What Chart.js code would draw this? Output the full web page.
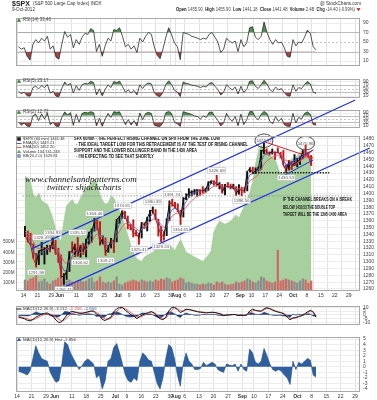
<!DOCTYPE html>
<html><head><meta charset="utf-8">
<script src="https://cdn.jsdelivr.net/npm/chart.js@4.4.1/dist/chart.umd.min.js"></script>
<style>
html,body{margin:0;padding:0;background:#fff}
body{width:377px;height:400px;position:relative;overflow:hidden}
canvas{position:absolute;left:0}
</style></head><body>
<canvas id="hdr" width="377" height="12" style="top:0"></canvas>
<canvas id="p1" width="377" height="60" style="top:12px"></canvas>
<canvas id="p2" width="377" height="31" style="top:73px"></canvas>
<canvas id="p3" width="377" height="30" style="top:104px"></canvas>
<canvas id="macd" width="377" height="31" style="top:300px"></canvas>
<canvas id="hist" width="377" height="69" style="top:331px"></canvas>
<canvas id="main" width="377" height="205" style="top:95px;z-index:5"></canvas>
<script>
// ---------- DATA ----------
// trading-day index 0 = 14 May 2012 ... 103 = 9 Oct 2012
const tickIdx = [0,5,10,13,19,24,29,34,38,43,48,53,55,58,63,68,73,78,82,87,92,97,102,107,112,117];
const tickLbl = ['14','21','29','Jun','11','18','25','Jul','9','16','23','30','Aug','6','13','20','27','Sep','10','17','24','Oct','8','15','22','29'];
const priceTicks = [1260,1270,1280,1290,1300,1310,1320,1330,1340,1350,1360,1370,1380,1390,1400,1410,1420,1430,1440,1450,1460,1470,1480];
const volTicks = [100,200,300,400,500];
const rsiTicks = [10,30,50,70,90];
const macdTicks = [-10,-5,0,5,10];
const histTicks = [-4,-3,-2,-1,0,1,2,3,4,5];

const closes = [1338.35,1330.66,1324.80,1304.86,1295.22,1315.99,1316.63,1318.86,1320.68,1317.82,
1332.42,1313.32,1310.33,1278.04,1278.18,1285.50,1315.13,1314.99,1325.66,1308.93,
1324.18,1314.88,1329.10,1342.84,1344.78,1357.98,1355.69,1325.51,1335.02,1313.72,
1319.99,1331.85,1329.04,1362.16,1365.51,1374.02,1367.58,1354.68,1352.46,1341.47,
1341.45,1334.76,1356.78,1353.64,1363.67,1372.78,1376.51,1362.66,1350.52,1338.31,
1337.89,1360.02,1385.97,1385.30,1379.32,1375.32,1365.00,1390.99,1394.23,1401.35,
1402.22,1402.80,1405.87,1404.11,1403.93,1405.53,1415.51,1418.16,1418.13,1413.17,
1413.49,1402.08,1411.13,1410.44,1409.30,1410.49,1399.48,1406.58,1404.94,1403.44,
1432.12,1437.92,1429.08,1433.56,1436.56,1459.99,1465.77,1461.19,1459.32,1461.05,
1460.26,1460.15,1456.89,1441.59,1433.32,1447.15,1440.67,1444.49,1445.75,1450.99,
1461.40,1460.93,1455.88,1441.48];
const highs = [1351.93,1344.94,1341.78,1326.36,1312.24,1316.00,1328.49,1320.71,1324.20,1324.14,
1334.93,1331.25,1319.74,1309.83,1282.55,1287.00,1315.13,1329.05,1325.81,1335.52,
1324.41,1327.28,1333.25,1343.32,1348.22,1363.46,1361.57,1358.79,1337.82,1334.98,
1324.31,1334.40,1331.85,1362.17,1366.35,1374.81,1373.85,1367.09,1354.65,1361.54,
1345.97,1341.45,1357.70,1357.26,1365.36,1375.26,1380.39,1376.51,1362.34,1351.53,
1343.98,1363.13,1389.19,1391.74,1387.16,1385.03,1375.32,1394.16,1399.63,1407.14,
1404.14,1405.95,1405.98,1405.87,1410.03,1407.73,1417.44,1418.71,1418.71,1426.68,
1416.12,1413.49,1413.46,1416.17,1413.95,1413.70,1410.08,1413.09,1409.31,1408.81,
1432.12,1437.92,1438.74,1437.76,1439.15,1463.46,1474.51,1465.63,1461.47,1465.15,
1461.23,1467.07,1460.72,1463.24,1441.60,1448.52,1447.39,1457.14,1451.52,1453.89,
1463.14,1470.96,1460.93,1455.90];
const lows = [1336.61,1328.41,1324.79,1304.86,1291.98,1295.73,1310.04,1296.53,1310.50,1314.23,
1318.90,1310.76,1298.90,1277.25,1266.74,1274.00,1285.50,1312.68,1307.77,1307.73,
1306.62,1310.51,1306.91,1325.61,1328.49,1344.94,1346.45,1324.41,1325.92,1309.27,
1313.72,1320.00,1313.29,1329.05,1355.70,1363.53,1363.02,1348.03,1346.65,1336.27,
1338.00,1325.41,1334.76,1348.51,1345.07,1358.96,1371.21,1362.19,1337.56,1329.24,
1331.50,1338.17,1360.05,1381.37,1379.17,1373.35,1354.65,1365.45,1391.04,1394.46,
1396.13,1398.80,1395.62,1397.32,1400.60,1401.83,1404.15,1414.67,1412.13,1410.86,
1406.78,1400.50,1398.04,1409.11,1406.57,1406.78,1397.01,1398.96,1396.56,1401.25,
1403.85,1431.45,1428.98,1429.13,1432.99,1435.34,1458.65,1457.55,1456.13,1457.88,
1449.98,1459.51,1452.06,1441.59,1430.53,1434.53,1435.18,1440.90,1439.01,1442.62,
1450.98,1456.89,1453.10,1441.18];
const emaFast = [1342,1336,1330,1317,1306,1311,1314,1316,1318,1318,
1325,1319,1315,1296,1287,1286,1301,1308,1317,1313,
1319,1317,1323,1333,1339,1348,1352,1339,1337,1325,
1323,1327,1328,1345,1355,1365,1366,1360,1356,1349,
1345,1340,1348,1351,1357,1365,1371,1367,1359,1349,
1343,1352,1369,1377,1378,1377,1371,1381,1388,1395,
1399,1401,1403,1404,1404,1405,1410,1414,1416,1415,
1414,1408,1410,1410,1410,1410,1405,1406,1405,1404,
1418,1428,1429,1431,1434,1447,1456,1459,1459,1460,
1460,1460,1458,1450,1442,1444,1442,1443,1444,1448,
1455,1458,1457,1449.2];
const emaSlow = [1345,1341.4,1337.2,1329.1,1320.6,1319.5,1318.8,1318.8,1319.3,1318.9,
1322.3,1320,1317.6,1307.7,1300.3,1296.6,1301.2,1304.7,1309.9,1309.7,
1313.3,1313.7,1317.6,1323.9,1329.1,1336.3,1341.2,1337.3,1336.7,1331,
1328.2,1329.1,1329.1,1337.4,1344.4,1351.8,1355.8,1355.5,1354.8,1351.5,
1349,1345.4,1348.3,1349.6,1353.1,1358,1362.6,1362.6,1359.6,1354.3,
1350.2,1352.7,1361,1367.1,1370.1,1371.4,1369.8,1375.1,1379.9,1385.3,
1389.5,1392.8,1396.1,1398.1,1399.6,1401.1,1404.7,1408.1,1410.6,1411.3,
1411.8,1409.4,1409.8,1409.9,1409.8,1409.9,1407.3,1407.1,1406.6,1405.8,
1412.4,1418.8,1421.4,1424.4,1427.5,1435.6,1443.2,1447.7,1450.6,1453.2,
1455,1456.3,1456.5,1452.8,1447.9,1447.7,1446,1445.6,1445.6,1447,
1450.6,1453.2,1453.9,1452.2];
const breadth = [74,73,70,62,60,63,58,57,56,52,
47,40,35,32,45,55,57,59,56,56,
60,63,66,68,70,72,69,62,58,56,
57,61,60,55,52,47,42,36,30,25,
21,20,19,22,23,24,25,27,28,30,
31,30,30,28,26,30,33,29,25,24,
23,22,21,20,19,21,23,26,38,42,
45,44,43,44,45,47,49,47,51,55,
59,64,71,82,90,94,91,90,88,86,
85,80,75,76,80,83,85,86,87,89,
91,88,86,85];
const volume = [130,120,140,150,170,110,120,140,110,90,
120,130,150,160,140,120,130,110,100,120,
130,110,120,140,150,110,120,160,110,100,
110,100,120,160,90,80,100,110,120,130,
120,110,130,120,110,120,110,130,120,140,
130,150,140,110,120,130,150,140,100,110,
100,90,90,80,90,85,100,95,80,110,
100,110,90,80,85,90,110,100,110,120,
140,130,110,100,120,160,150,120,110,100,
110,420,120,130,140,130,120,110,100,120,
140,130,100,120];
const rsi14 = [40,35,38,20,12,45,55,48,58,52,
62,35,42,18,14,45,72,60,66,38,
55,45,60,68,66,78,74,30,45,20,
42,58,52,76,74,80,62,40,45,35,
42,28,58,50,62,70,66,40,22,15,
35,60,80,65,48,40,13,70,68,66,
62,60,58,55,58,56,66,70,60,50,
28,35,58,52,48,52,30,55,40,48,
80,82,60,55,62,92,70,55,45,55,
48,50,38,20,18,55,42,50,48,60,
75,68,40,33.5];
const rsi5 = [35,22,30,10,8,55,62,48,66,55,
72,25,35,8,6,50,85,68,78,25,
65,40,70,78,75,90,82,15,48,10,
45,70,55,88,82,90,60,30,42,25,
40,15,70,50,72,80,75,28,10,6,
30,72,92,72,40,30,6,85,78,75,
68,65,62,55,62,58,78,82,62,45,
15,30,70,55,42,58,20,62,28,45,
90,92,62,50,70,95,75,45,32,58,
42,50,28,10,8,70,35,55,50,72,
88,75,30,23.2];
const rsi2 = [30,12,25,5,3,70,80,40,82,50,
88,15,30,4,3,60,95,75,90,10,
80,30,85,92,88,96,90,6,55,4,
50,85,60,96,92,95,55,15,45,12,
40,6,88,45,85,92,85,12,5,3,
25,90,97,85,30,20,3,96,90,85,
78,70,65,50,70,60,92,94,65,40,
6,25,85,55,35,65,8,80,15,45,
96,97,60,45,80,98,85,35,20,65,
35,55,15,4,3,85,25,60,50,85,
95,80,15,12.7];
const macdLine = [-3,-4,-5,-7,-8,-6,-3,-1,1,2,
2.5,0,-2,-7,-10,-9,-4,1,4,4.5,
3,2,2,3,4,5,5,1,-1,-6,
-7.5,-5,-3,4,8,10,9.5,6,3,0,
-2,-5,-2,0,2,3,4.5,2,-2,-5,
-6.5,-3,5,9.5,10,7,3,5,7.5,7,
6,5,4,3.5,3,2.5,3,3.5,3,2,
1,-1,-0.5,0,0.5,0.5,-1,-0.5,-1,0,
5,7.5,6,5,5,8,9.5,8,6,4.5,
3.5,2.5,1,-3,-6.5,-4,-3.5,-2,-1,1,
4,6,3.5,-3.1];
const macdSignal = [-2,-3,-4,-5,-6.5,-6.5,-5,-3,-1,0.5,
1.5,1,0,-3,-6,-8,-6.5,-3,0.5,3,
3.5,3,2.5,2.5,3.5,4.5,5,3,1,-2.5,
-5.5,-6,-4.5,-0.5,4.5,8,9.5,8,5.5,2.5,
0,-2.5,-3,-1.5,0.5,2,3.5,3,0.5,-2.5,
-5,-4.5,0.5,6,9,8.5,5.5,5,6.5,7,
6.5,5.5,4.5,4,3.5,3,3,3.2,3.2,2.5,
1.5,0,-0.5,-0.2,0.3,0.5,-0.3,-0.5,-0.8,-0.4,
2.5,5.5,6,5.5,5,6.5,8.5,8.5,7,5.5,
4.2,3,1.8,-1,-4.5,-4.5,-4,-2.8,-1.5,0,
2.5,5,4.5,-1.26];
const macdHist = [-0.8,-1,-1.2,-1.5,-0.8,1.5,3.8,2.5,1.5,1.2,
1,-1,-2,-2.8,-2.5,0.5,4.5,4,2.5,1.5,
0.5,-0.5,0.2,1,1.4,1,0.5,-2,-1.5,-4,
-2.5,1,1.5,3.5,4.2,2.5,0.5,-1.5,-2.5,-2.8,
-2,-2.5,1,2.5,2,1.2,1,-1,-3,-4,
-2,1.5,4,3.5,1.5,-1.5,-3.5,0.5,2.5,1,
0.5,-0.5,-0.5,-0.3,0.8,0.2,0.5,0.8,0.5,-0.5,
-0.8,-1,0.5,0.3,0.2,0.5,-0.8,0.5,-0.5,-0.8,
3.2,2.5,0.8,0.5,1,3.3,2,0.5,-0.5,-0.8,
-0.5,-0.8,-1.5,-2,-3.2,1,-0.5,0.8,0.5,1,
1.5,1.2,-1.5,-1.86];

// price call-outs (day index, price, placement a=above b=below c=circled)
const lblDay   = [4,6,10,14,19,20,25,29,35,41,46,49,53,56,69,78,86,94,101];
const lblPrice = [1291.98,1328.49,1334.93,1266.74,1335.52,1306.62,1363.46,1309.27,1374.81,1325.41,1380.39,1329.24,1391.74,1354.65,1426.68,1396.56,1474.51,1430.53,1470.96];
const lblPos   = ['b','a','a','b','a','b','a','b','a','b','a','b','a','b','a','b','c','b','c'];
// drawn trend lines (day index, price)
const chanUpperX = [2.77,119.4],  chanUpperY = [1318.7,1537.2];
const chanLowerX = [12.46,124.6], chanLowerY = [1258.6,1466.8];
const redDownX = [86.9,104.2],    redDownY = [1475.6,1452.1];
const redUpX = [95.2,104.2],      redUpY = [1434.5,1463.9];
const blueAX = [93.5,104.2],      blueAY = [1439,1463.9];
const blueBX = [92.8,104.2],      blueBY = [1424.3,1449.2];
const supportLevel = 1396.56, neckLevel = 1430.53, neckFrom = 82.4, neckTo = 110;

// ---------- HELPERS ----------
const F = '"Liberation Sans", Arial, sans-serif';
const XMIN = -0.35, XMAX = 118.7;
const pts = a => a.map((v,i)=>({x:i+0.5, y:v}));
const seg = (xs,ys) => xs.map((x,i)=>({x, y:ys[i]}));
const up = closes.map((c,i)=> i===0 ? true : c >= closes[i-1]);

function xScale(show, h){
  return {type:'linear', min:XMIN, max:XMAX,
    afterBuildTicks:s=>{ s.ticks = tickIdx.map(v=>({value:v})); },
    ticks:{display:show, autoSkip:false, maxRotation:0, minRotation:0, padding:2, color:'#333',
      callback:(v,i)=>tickLbl[i],
      font:c=>({family:F, size:5, weight:/^[A-Z]/.test(tickLbl[c.index]||'')?'bold':'normal'})},
    grid:{color:'#e2e2e2', lineWidth:1, drawTicks:false},
    border:{display:false},
    afterFit:s=>{ s.height = h; }
  };
}
function yScale(min,max,ticks,gridColor,fmt){
  return {position:'right', min, max,
    afterBuildTicks:s=>{ s.ticks = ticks.map(v=>({value:v})); },
    ticks:{autoSkip:false, padding:3, color:'#444', font:{family:F,size:5}, callback:v=>fmt?fmt(v):String(v)},
    grid:{display:!!gridColor, color:gridColor||'#eee', drawTicks:false},
    border:{display:false},
    afterFit:s=>{ s.width = 17; }
  };
}
function border(chart){
  const {ctx, chartArea:a} = chart;
  ctx.save(); ctx.strokeStyle='#a8a8a8'; ctx.lineWidth=1;
  ctx.strokeRect(Math.round(a.left)+0.5, Math.round(a.top)+0.5, Math.round(a.right-a.left)-1, Math.round(a.bottom-a.top)-1);
  ctx.restore();
}
function hline(chart, v, color, dash, w){
  const {ctx, chartArea:a, scales:{y}} = chart;
  const py = Math.round(y.getPixelForValue(v))+0.5;
  ctx.save(); ctx.strokeStyle=color; ctx.lineWidth=w||1; ctx.setLineDash(dash||[]);
  ctx.beginPath(); ctx.moveTo(a.left,py); ctx.lineTo(a.right,py); ctx.stroke(); ctx.restore();
}
function marker(ctx, kind, x, y, color){
  ctx.save(); ctx.fillStyle=color; ctx.strokeStyle=color; ctx.lineWidth=1;
  if(kind==='tri'){ ctx.beginPath(); ctx.moveTo(x,y-2); ctx.lineTo(x+2.2,y+1.6); ctx.lineTo(x-2.2,y+1.6); ctx.closePath(); ctx.fill(); }
  else if(kind==='line'){ ctx.beginPath(); ctx.moveTo(x-2.5,y+0.5); ctx.lineTo(x+2.5,y+0.5); ctx.stroke(); }
  else { ctx.fillRect(x-1.8,y-1.8,3.6,3.6); }
  ctx.restore();
}
function legendRow(ctx, x, y, kind, mcolor, parts, size){
  marker(ctx, kind, x+2, y, mcolor);
  ctx.save(); ctx.font = `${size||4.5}px ${F}`; ctx.textBaseline='middle';
  let cx = x+6;
  parts.forEach(p=>{ ctx.fillStyle=p[1]; ctx.fillText(p[0], cx, y); cx += ctx.measureText(p[0]).width; });
  ctx.restore();
}

// ---------- HEADER ----------
(function(){
  const h = document.getElementById('hdr').getContext('2d');
  h.textBaseline='middle'; h.fillStyle='#222';
  h.font = `bold 7px ${F}`; h.fillText('$SPX', 12, 4);
  const w = h.measureText('$SPX').width;
  h.font = `4.6px ${F}`; h.fillStyle='#333';
  h.fillText('(S&P 500 Large Cap Index) INDX', 12+w+3, 4.2);
  h.fillText('9-Oct-2012', 12, 9.6);
  h.textAlign='right'; h.fillText('@ StockCharts.com', 361, 3.4);
  h.textAlign='left';
  const parts = [['Open ',1],['1455.90  ',0],['High ',1],['1455.90  ',0],['Low ',1],['1441.18  ',0],['Close ',1],['1441.48  ',0],['Volume ',1],['2.4B  ',0],['Chg ',1],['-14.40 (-0.99%) ',0]];
  let tot = 0;
  parts.forEach(p=>{ h.font = `${p[1]?'bold ':''}4.6px ${F}`; tot += h.measureText(p[0]).width; });
  const scale = Math.min(1, 180/tot);
  let x = 361 - 5 - tot*scale;
  parts.forEach(p=>{ h.font = `${p[1]?'bold ':''}4.6px ${F}`; const ww = h.measureText(p[0]).width; h.fillStyle = p[1]?'#222':'#444'; h.fillText(p[0], x, 9.6, ww*scale); x += ww*scale; });
  h.fillStyle='#c00'; h.beginPath(); h.moveTo(x+0.5,8.2); h.lineTo(x+4.5,8.2); h.lineTo(x+2.5,11); h.closePath(); h.fill();
})();

// ---------- RSI PANELS ----------
function rsiChart(id, data, min, max, padTop, padBottom, label){
  return new Chart(document.getElementById(id), {
    type:'line',
    data:{datasets:[
      {data:pts(data), borderColor:'#2a2a2a', borderWidth:0.8, pointRadius:0, tension:0,
       fill:{target:{value:70}, above:'#4f8f4f', below:'rgba(0,0,0,0)'}},
      {data:pts(data), borderColor:'rgba(0,0,0,0)', borderWidth:0, pointRadius:0, tension:0,
       fill:{target:{value:30}, above:'rgba(0,0,0,0)', below:'#9c4646'}}
    ]},
    options:{responsive:false, animation:false, devicePixelRatio:1,
      layout:{padding:{left:16, right:0, top:padTop, bottom:padBottom}},
      plugins:{legend:{display:false}, tooltip:{enabled:false}},
      scales:{x:xScale(false,0), y:yScale(min,max,rsiTicks,null)}},
    plugins:[{id:'rsiDeco'+id,
      beforeDatasetsDraw(c){
        hline(c,10,'#ececec'); hline(c,90,'#ececec');
        hline(c,30,'#bdbdbd'); hline(c,70,'#bdbdbd'); hline(c,50,'#c4c4c4',[2,2]);
      },
      afterDraw(c){
        border(c);
        legendRow(c.ctx, c.chartArea.left+1, c.chartArea.top+2.2, 'tri', '#3d7f3d', [[label,'#444']], 4.5);
      }}]
  });
}
rsiChart('p1', rsi14, -0.4, 100.4, 1, 1, 'RSI(14) 33.46');
rsiChart('p2', rsi5, -2, 102, 3, 2, 'RSI(5) 23.17');
rsiChart('p3', rsi2, -6.8, 106.8, 2, 1, 'RSI(2) 12.72');

// ---------- MAIN PRICE PANEL ----------
const mainTop = 95;
const notes = [
  ['SPX 60min - THE PERFECT RISING CHANNEL ON SPX FROM THE JUNE LOW', 74, 139, 146],
  ['- THE IDEAL TARGET LOW FOR THIS RETRACEMENT IS AT THE TEST OF RISING CHANNEL', 76, 144.6, 172],
  ['SUPPORT AND THE LOWER BOLLINGER BAND IN THE 1430 AREA', 74, 151, 123],
  ["- I'M EXPECTING TO SEE THAT SHORTLY", 76, 156.8, 78],
  ['IF THE CHANNEL BREAKS ON A BREAK', 283, 200, 69],
  ['BELOW 1430.53 THE DOUBLE TOP', 283, 207.4, 52],
  ['TARGET WILL BE THE 1395-1400 AREA', 283, 214.6, 64]
];
const lineDs = (data, color, w, dash, order) => ({type:'line', data, borderColor:color, borderWidth:w, borderDash:dash||[], pointRadius:0, fill:false, clip:false, order, tension:0});

new Chart(document.getElementById('main'), {
  type:'line',
  data:{datasets:[
    {type:'line', yAxisID:'yg', data:pts(breadth), borderColor:'#98c68f', borderWidth:0.6, backgroundColor:'#a8d09f', fill:'origin', pointRadius:0, order:20, tension:0},
    {type:'bar', yAxisID:'yv', data:pts(volume), backgroundColor:up.map(u=>u?'#8c8c8c':'#d06868'), barThickness:1.6, grouped:false, order:19},
    {type:'bar', yAxisID:'y', data:lows.map((l,i)=>({x:i+0.5, y:[l, highs[i]]})), backgroundColor:up.map(u=>u?'#111':'#c41818'), barThickness:1.3, grouped:false, order:8},
    {type:'line', yAxisID:'y', data:pts(emaSlow), borderColor:'#e85a5a', borderWidth:0.9, pointRadius:0, fill:false, order:7, tension:0},
    {type:'line', yAxisID:'y', data:pts(emaFast), borderColor:'#4a62b8', borderWidth:0.9, pointRadius:0, fill:false, order:6, tension:0},
    {type:'line', yAxisID:'y', data:pts(closes), borderWidth:1, pointRadius:0, fill:false, order:5, tension:0,
      segment:{borderColor:c=> c.p1.parsed.y < c.p0.parsed.y ? '#c41818' : '#111'}},
    lineDs(seg([XMIN,XMAX],[supportLevel,supportLevel]), '#8a8a8a', 0.8, [1.5,1.5], 4),
    lineDs(seg([neckFrom,neckTo],[neckLevel,neckLevel]), '#111', 1.4, [1.4,1.4], 3),
    lineDs(seg(chanUpperX,chanUpperY), '#2233e6', 1.3, null, 1),
    lineDs(seg(chanLowerX,chanLowerY), '#2233e6', 1.3, null, 1),
    lineDs(seg(redDownX,redDownY), '#e02020', 1, null, 2),
    lineDs(seg(redUpX,redUpY), '#e02020', 1, null, 2),
    lineDs(seg(blueAX,blueAY), '#2233e6', 1, null, 2),
    lineDs(seg(blueBX,blueBY), '#2233e6', 1, null, 2)
  ]},
  options:{responsive:false, animation:false, devicePixelRatio:1,
    layout:{padding:{left:16, right:0, top:41, bottom:0}},
    plugins:{legend:{display:false}, tooltip:{enabled:false}},
    scales:{
      x:xScale(true,9),
      y:yScale(1257,1484.4,priceTicks,'#ececec'),
      yv:{display:false, min:22, max:1534},
      yg:{display:false, min:0, max:100}
    }},
  plugins:[{id:'mainDeco',
    afterDatasetsDraw(c){
      const {ctx, scales:{x,y,yv}} = c;
      // watermark
      ctx.save(); ctx.fillStyle='#1a1a1a'; ctx.textBaseline='middle';
      ctx.font = `italic 9px "Liberation Serif", serif`;
      ctx.fillText('www.channelsandpatterns.com', 25, 180-mainTop, 120);
      ctx.fillText('twitter: shjackcharts', 47, 188-mainTop, 80);
      ctx.restore();
      // price call-outs
      ctx.save(); ctx.font = `4.4px ${F}`; ctx.textBaseline='middle'; ctx.textAlign='center';
      lblDay.forEach((d,k)=>{
        const px = x.getPixelForValue(d+0.5);
        const pos = lblPos[k];
        const py = y.getPixelForValue(lblPrice[k]) + (pos==='a' ? -5 : pos==='b' ? 5 : -2);
        const t = lblPrice[k].toFixed(2);
        const w = ctx.measureText(t).width + 2;
        if(pos==='c'){
          ctx.strokeStyle='#222'; ctx.lineWidth=0.8;
          ctx.beginPath(); ctx.ellipse(px, py, 9, 6.8, 0, 0, Math.PI*2); ctx.stroke();
        } else {
          ctx.fillStyle='#fff'; ctx.fillRect(px-w/2, py-2.8, w, 5.6);
          ctx.strokeStyle='#b0b0b0'; ctx.lineWidth=0.5; ctx.strokeRect(px-w/2, py-2.8, w, 5.6);
        }
        ctx.fillStyle='#555'; ctx.fillText(t, px, py+0.2);
      });
      ctx.restore();
      // notes
      ctx.save(); ctx.fillStyle='#111'; ctx.textBaseline='middle';
      ctx.font = `bold 5px ${F}`;
      notes.forEach(n=> ctx.fillText(n[0], n[1], n[2]-mainTop, n[3]));
      ctx.restore();
      // volume axis labels (left)
      ctx.save(); ctx.font = `4.6px ${F}`; ctx.fillStyle='#444'; ctx.textAlign='right'; ctx.textBaseline='middle';
      volTicks.forEach(v=> ctx.fillText(v+'M', 14.5, yv.getPixelForValue(v)));
      ctx.restore();
    },
    afterDraw(c){
      border(c);
      const ctx = c.ctx, l = c.chartArea.left+1, t = c.chartArea.top;
      legendRow(ctx, l, t+3, 'sq', '#222', [['$SPX (60 min) 1441.48','#333']], 4);
      legendRow(ctx, l, t+7, 'line', '#4a62b8', [['EMA(20) 1449.21','#333']], 4);
      legendRow(ctx, l, t+11, 'line', '#e85a5a', [['EMA(50) 1452.20','#333']], 4);
      legendRow(ctx, l, t+15.5, 'tri', '#6aa860', [['Volume 134,741,248','#333']], 4);
      legendRow(ctx, l, t+20, 'sq', '#7c9cc8', [['BB(20,2.0) 1429.81','#333']], 4);
    }}]
});

// ---------- MACD ----------
new Chart(document.getElementById('macd'), {
  type:'line',
  data:{datasets:[
    {data:pts(macdHist), borderColor:'#1c3a78', borderWidth:0.6, backgroundColor:'#1f3f80', fill:'origin', pointRadius:0, order:3, tension:0},
    {data:pts(macdSignal), borderColor:'#e45c5c', borderWidth:1, pointRadius:0, fill:false, order:2, tension:0},
    {data:pts(macdLine), borderColor:'#1a1a1a', borderWidth:1, pointRadius:0, fill:false, order:1, tension:0}
  ]},
  options:{responsive:false, animation:false, devicePixelRatio:1,
    layout:{padding:{left:16, right:0, top:0, bottom:1}},
    plugins:{legend:{display:false}, tooltip:{enabled:false}},
    scales:{x:xScale(false,0), y:yScale(-13.33,11.67,macdTicks,'#ececec')}},
  plugins:[{id:'macdDeco', afterDraw(c){
    border(c);
    legendRow(c.ctx, c.chartArea.left+1, c.chartArea.top+2.5, 'line', '#1a1a1a',
      [['MACD(12,26,9) -3.112','#333'],[', -1.256','#e04848'],[', -1.856','#3a5fa8']], 4.4);
  }}]
});

// ---------- MACD HISTOGRAM ----------
new Chart(document.getElementById('hist'), {
  type:'line',
  data:{datasets:[
    {data:pts(macdHist), borderColor:'#1f4a88', borderWidth:0.6, backgroundColor:'#2e5f9e', fill:'origin', pointRadius:0, tension:0}
  ]},
  options:{responsive:false, animation:false, devicePixelRatio:1,
    layout:{padding:{left:16, right:0, top:0, bottom:0}},
    plugins:{legend:{display:false}, tooltip:{enabled:false}},
    scales:{x:xScale(true,8), y:yScale(-4.55,5.37,histTicks,'#ececec')}},
  plugins:[{id:'histDeco', afterDraw(c){
    border(c);
    legendRow(c.ctx, c.chartArea.left+1, c.chartArea.top+2.5, 'tri', '#2e5f9e', [['MACD(12,26,9) Hist -1.856','#333']], 4.4);
  }}]
});
</script>
</body></html>
